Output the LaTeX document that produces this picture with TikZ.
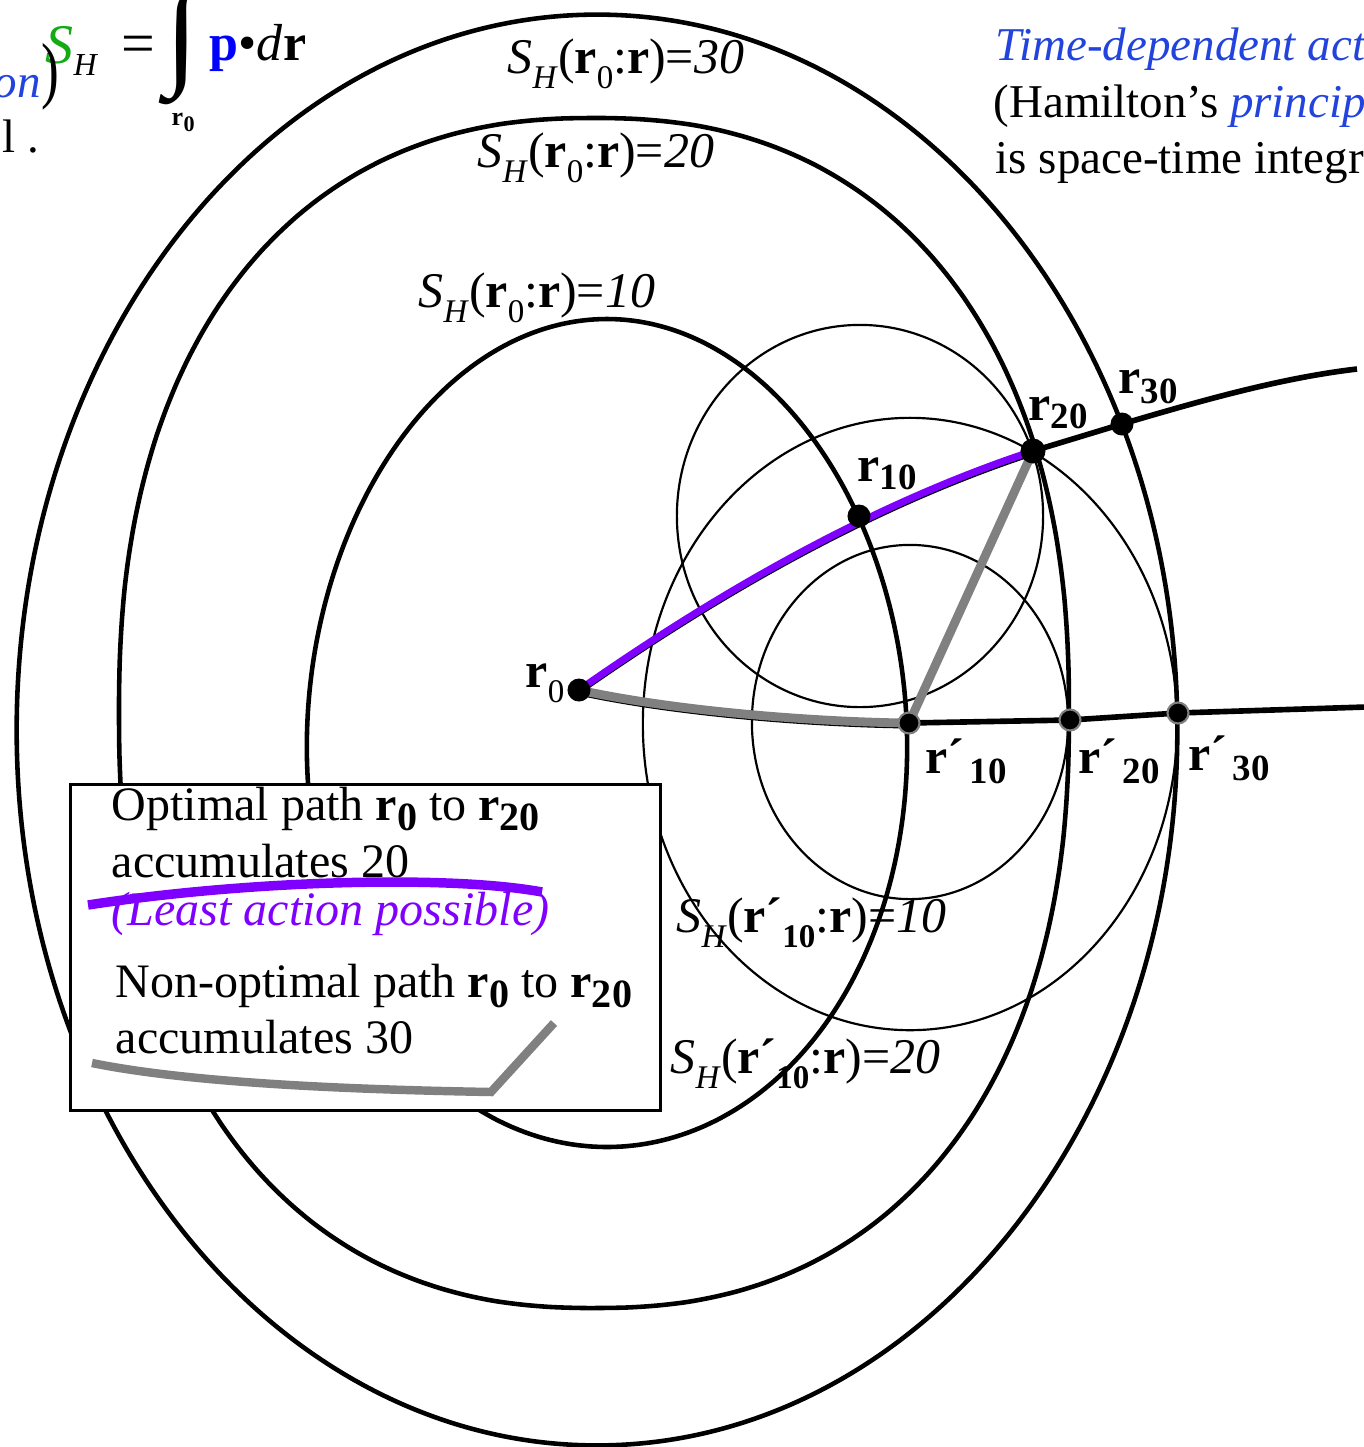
\documentclass[tikz,border=0pt]{standalone}
\usepackage{fontspec}
\setmainfont{Liberation Serif}
\usepackage{graphicx}
\definecolor{sgreen}{RGB}{20,170,20}
\definecolor{pblue}{RGB}{0,0,255}
\definecolor{tblue}{RGB}{34,68,221}
\definecolor{lpurple}{RGB}{128,0,255}
\definecolor{pgray}{RGB}{128,128,128}
\newcommand\bodyf{\fontsize{13.37pt}{16pt}\selectfont}
\newcommand\boxf{\fontsize{13.66pt}{16pt}\selectfont}
\newcommand\labf{\fontsize{14.2pt}{17pt}\selectfont}
\newcommand\csub[1]{\raisebox{-4.3pt}{\fontsize{9.39pt}{10pt}\selectfont #1}}
\newcommand\rsub[2]{\raisebox{-#1}{\fontsize{10.5pt}{11pt}\selectfont\bfseries #2}}
\newcommand\bsub[1]{\raisebox{-2.85pt}{\fontsize{11.4pt}{12pt}\selectfont\bfseries #1}}
\newcommand\SHlab{\textit{S}\csub{\textit{H}}}
\begin{document}
\begin{tikzpicture}[x=0.01cm, y=-0.01cm,
  thk/.style={line width=1.3pt},
  thn/.style={line width=0.62pt},
  pathline/.style={line width=1.6pt},
  dot/.style={circle, fill=black, inner sep=0pt, minimum size=0.23cm},
  pdot/.style={circle, fill=black, draw=pgray, line width=0.6pt, inner sep=0pt, minimum size=0.21cm},
  lab/.style={inner sep=0pt, anchor=base west, font=\labf},
  txt/.style={inner sep=0pt, anchor=base west, font=\bodyf},
  btxt/.style={inner sep=0pt, anchor=base west, font=\boxf},
]
\fill[white] (0,0) rectangle (1364,1447);
\useasboundingbox (0,0) rectangle (1364,1447);

% key points
\coordinate (r0) at (579,690);
\coordinate (r10) at (859,516);
\coordinate (r20) at (1033,451);
\coordinate (r30) at (1122,424);
\coordinate (e1) at (1357,369);
\coordinate (rp10) at (909,723);
\coordinate (rp20) at (1070,720);
\coordinate (rp30) at (1178,713);
\coordinate (e2) at (1366,707);

% contours S_H(r0:r) = 30, 20, 10
\draw[thk] (597,730) ellipse [x radius=5.80cm, y radius=7.15cm];
\draw[thk] plot[domain=0.5:360.5, samples=121, smooth]
  ({594 + 475*sign(cos(\x))*pow(abs(cos(\x)),0.87)}, {713 + 595*sign(sin(\x))*pow(abs(sin(\x)),0.87)}) -- cycle;
\draw[thk] plot[domain=0:360, samples=121, smooth]
  ({607 + (300+10*sin(\x))*cos(\x)}, {733 + 414*sin(\x)}) -- cycle;

% circles around r10 and r'10
\draw[thn] (860,516) ellipse [x radius=1.83cm, y radius=1.91cm];
\draw[thn] (910,722) ellipse [x radius=1.58cm, y radius=1.77cm];
\draw[thn] (910,724) ellipse [x radius=2.67cm, y radius=3.06cm];

% paths
\draw[pathline] (r20) -- (r30) .. controls (1200,401) and (1280,378) .. (e1);
\draw[pathline] (rp10) -- (rp20) -- (rp30) -- (e2);
\draw[line width=0.85pt, transform canvas={yshift=-0.04cm}] (r0) .. controls (680,712) and (820,722) .. (rp10);
\draw[pgray, line width=2.5pt] (r0) .. controls (680,712) and (820,722) .. (rp10);
\draw[line width=0.9pt, transform canvas={yshift=-0.035cm}] (r0) .. controls (729,585) and (881,501) .. (r20);
\draw[lpurple, line width=2.0pt] (r0) .. controls (729,585) and (881,501) .. (r20);
\draw[pgray, line width=2.5pt] (rp10) -- (r20);

% dots
\node[dot] (n0) at (r0) {};
\node[dot] (n10) at (r10) {};
\node[dot, minimum size=0.25cm] (n20) at (r20) {};
\node[dot] (n30) at (r30) {};
\node[pdot] (np10) at (rp10) {};
\node[pdot] (np20) at (rp20) {};
\node[pdot] (np30) at (rp30) {};

% point labels
\node[lab] (l0) at (525,687) {\textbf{r}\csub{0}};
\node[lab] (l10) at (857,481) {\textbf{r}\rsub{2.3pt}{10}};
\node[lab] (l20) at (1028,420) {\textbf{r}\rsub{2.3pt}{20}};
\node[lab] (l30) at (1118,393) {\textbf{r}\rsub{2.85pt}{30}};
\node[lab] (lp10) at (925,773) {\textbf{r´}\kern1.5pt\rsub{2.85pt}{10}};
\node[lab] (lp20) at (1078,773) {\textbf{r´}\kern1.5pt\rsub{2.85pt}{20}};
\node[lab] (lp30) at (1188,770) {\textbf{r´}\kern1.5pt\rsub{2.85pt}{30}};

% contour labels
\node[lab] (c30) at (507,73) {\SHlab(\textbf{r}\csub{0}:\textbf{r})=\textit{30}};
\node[lab] (c20) at (477,167) {\SHlab(\textbf{r}\csub{0}:\textbf{r})=\textit{20}};
\node[lab] (c10) at (418,307) {\SHlab(\textbf{r}\csub{0}:\textbf{r})=\textit{10}};
\node[lab] (cp10) at (676,932) {\SHlab(\textbf{r´}\csub{\bfseries 10}:\textbf{r})=\textit{10}};
\node[lab] (cp20) at (670,1073) {\SHlab(\textbf{r´}\csub{\bfseries 10}:\textbf{r})=\textit{20}};

% legend box
\node[draw, line width=0.75pt, fill=white, inner sep=0pt, anchor=north west, minimum width=5.9cm, minimum height=3.26cm] (box) at (69,783) {};
\node[btxt] (t1) at (111,820) {Optimal path \textbf{r}\bsub{0} to \textbf{r}\bsub{20}};
\node[btxt] (t2) at (111,877) {accumulates 20};
\node[btxt, text=lpurple] (t3) at (111,925) {\textit{(Least action possible)}};
\node[btxt] (t4) at (115,997) {Non-optimal path \textbf{r}\bsub{0} to \textbf{r}\bsub{20}};
\node[btxt] (t5) at (115,1053) {accumulates 30};
\coordinate (pa) at (88,905);
\coordinate (pb) at (542,892);
\draw[lpurple, line width=2.7pt] (pa) .. controls (250,880) and (450,875) .. (pb);
\coordinate (ga) at (92,1063);
\coordinate (gb) at (491,1092);
\coordinate (gc) at (554,1023);
\draw[pgray, line width=2.4pt] (ga) .. controls (200,1085) and (380,1090) .. (gb) -- (gc);

% top-left formula
\node[inner sep=0pt, anchor=base west, font=\fontsize{15.9pt}{18pt}\selectfont] (fS) at (45,63) {\textcolor{sgreen}{\textit{S}}};
\node[inner sep=0pt, anchor=base west, font=\fontsize{9.1pt}{10pt}\selectfont] (fH) at (73,75) {\textit{H}};
\node[inner sep=0pt, anchor=base west, font=\fontsize{17pt}{18pt}\selectfont] (feq) at (121,63) {=};
\node[inner sep=0pt] (fint) at (182,46) {\resizebox{!}{0.86cm}{∫}};
\node[inner sep=0pt, anchor=base west, font=\fontsize{7.4pt}{8pt}\selectfont] (fr) at (171,125) {\textbf{r}};
\node[inner sep=0pt, anchor=base west, font=\fontsize{6.3pt}{7pt}\selectfont] (fr0) at (183,131) {\textbf{0}};
\node[inner sep=0pt, anchor=base west, font=\fontsize{14.8pt}{17pt}\selectfont] (fpdr) at (209,60) {\textcolor{pblue}{\textbf{p}}•\textit{d}\textbf{r}};
\node[txt] (fon) at (-7,97) {\textcolor{tblue}{\textit{on}}};
\node[inner sep=0pt, font=\fontsize{19pt}{20pt}\selectfont] (fpar) at (50,77) {\scalebox{0.8}[1.1]{)}};
\node[txt] (fl) at (2,152) {l .};

% top-right text
\node[txt] (tr1) at (995,60) {\textcolor{tblue}{\textit{Time-dependent action}}};
\node[txt] (tr2) at (993,117) {(Hamilton’s \textcolor{tblue}{\textit{principal}}};
\node[txt] (tr3) at (995,173) {is space-time integral};
\end{tikzpicture}
\end{document}
